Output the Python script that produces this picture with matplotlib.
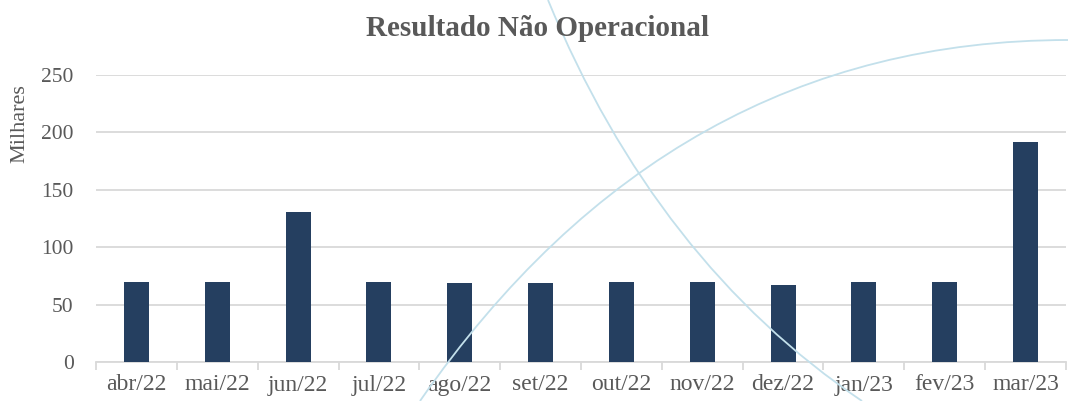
import numpy as np
import matplotlib
matplotlib.use("Agg")
from matplotlib import pyplot as plt
from matplotlib.path import Path
from matplotlib.patches import PathPatch

months = ['abr/22', 'mai/22', 'jun/22', 'jul/22', 'ago/22', 'set/22',
          'out/22', 'nov/22', 'dez/22', 'jan/23', 'fev/23', 'mar/23']
values = [70, 70, 130.5, 70, 68.5, 69, 70, 70, 67, 70, 69.5, 191.5]
yticks = [0, 50, 100, 150, 200, 250]

plt.rcParams['font.family'] = ['Liberation Serif', 'DejaVu Serif']
text_color = '#595959'
grid_color = '#d9d9d9'

W, H = 1068, 401
fig = plt.figure(figsize=(W / 100, H / 100), dpi=100)
ax = fig.add_axes([96 / W, 1 - 362 / H, (1066 - 96) / W, (362 - 75) / H])
ax.set_facecolor('none')

x = np.arange(len(months))
ax.bar(x, values, width=0.31, color='#253f60', zorder=3)

ax.set_xlim(-0.5, len(months) - 0.5)
ax.set_ylim(0, 250)
ax.set_yticks(yticks)
ax.set_yticklabels([str(v) for v in yticks], fontsize=15.5, color=text_color)
ax.yaxis.grid(True, color=grid_color, linewidth=1.3, zorder=0)
ax.set_axisbelow(True)

ax.set_xticks(x)
ax.set_xticklabels(months, fontsize=17, color=text_color)
ax.set_xticks(np.arange(len(months) + 1) - 0.5, minor=True)
ax.tick_params(axis='x', which='major', length=0, pad=9)
ax.tick_params(axis='x', which='minor', length=6, color=grid_color, width=1.3)
ax.tick_params(axis='y', length=0, pad=16)

for s in ['top', 'right', 'left']:
    ax.spines[s].set_visible(False)
ax.spines['bottom'].set_color(grid_color)
ax.spines['bottom'].set_linewidth(1.3)

fig.text(537 / W, 1 - 29 / H, 'Resultado Não Operacional', ha='center', va='center',
         fontsize=21, fontweight='bold', color=text_color)
fig.text(20 / W, 1 - 124 / H, 'Milhares', ha='center', va='center', rotation=90,
         fontsize=16, color=text_color)

# light decorative background curves (from the slide template)
def curve(p0, c, p1):
    pts = [(px / W, 1 - py / H) for px, py in (p0, c, p1)]
    return Path(pts, [Path.MOVETO, Path.CURVE3, Path.CURVE3])

for p0, c, p1 in [((548, 0), (656, 262), (862, 401)),
                  ((420, 401), (670, 40), (1068, 40))]:
    fig.patches.append(PathPatch(curve(p0, c, p1), transform=fig.transFigure,
                                 fill=False, edgecolor='#c3e0eb', linewidth=1.3,
                                 zorder=0))

fig.savefig('out.png', dpi=100)
